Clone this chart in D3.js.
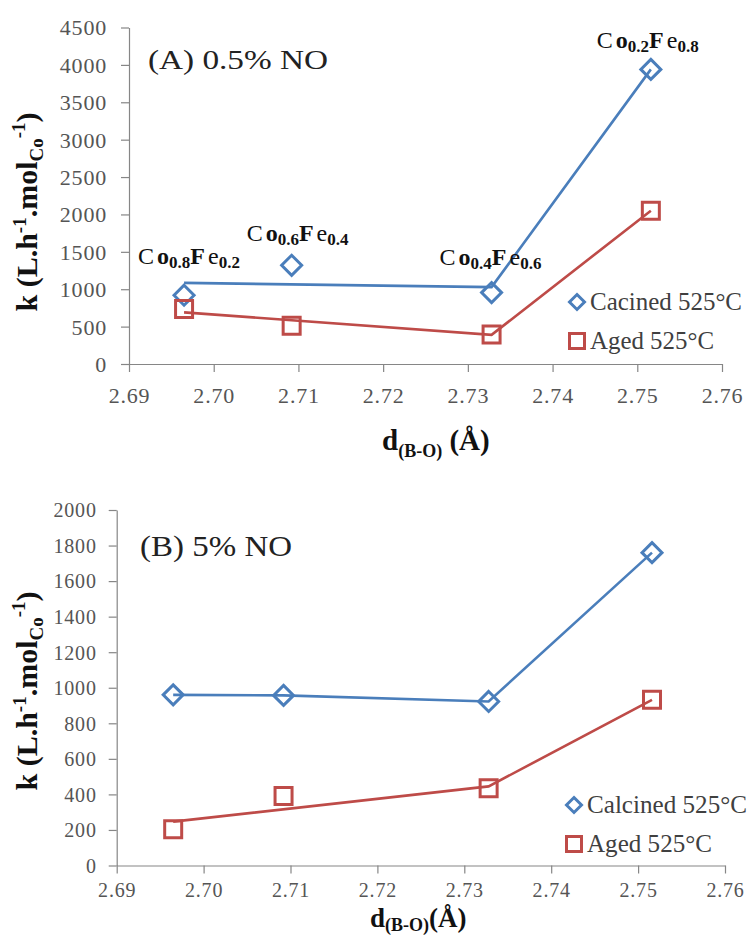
<!DOCTYPE html>
<html>
<head>
<meta charset="utf-8">
<script src="https://cdn.jsdelivr.net/npm/d3@7"></script>
<style>
  html, body { margin: 0; padding: 0; background: #fff; }
  svg { display: block; }
  svg text { font-family: "Liberation Serif", "Times New Roman", serif; }
</style>
</head>
<body>
<svg id="chart" width="750" height="938"></svg>
<script>
// B–O bond distance (Å) of each CoxFe1-x perovskite
const bondDistance = [2.6965, 2.7092, 2.7328, 2.7516];
const coFraction = ["0.8", "0.6", "0.4", "0.2"];
const feFraction = ["0.2", "0.4", "0.6", "0.8"];

// x ticks shared by both panels
const dTicks = [2.69, 2.70, 2.71, 2.72, 2.73, 2.74, 2.75, 2.76];

// Panel A: 0.5% NO — rate constants
const calcinedA = [920, 1320, 955, 3940];
const agedA = [735, 510, 395, 2050];
// guide lines drawn through the series
const calcinedLineA = [[2.6965, 1085], [2.7328, 1028], [2.7516, 3940]];
const agedLineA = [[2.6965, 690], [2.7328, 390], [2.7516, 2050]];
const kTicksA = [0, 500, 1000, 1500, 2000, 2500, 3000, 3500, 4000, 4500];

// Panel B: 5% NO — rate constants
const calcinedB = [960, 957, 923, 1760];
const agedB = [204, 391, 435, 932];
const calcinedLineB = [[2.6965, 960], [2.7092, 957], [2.7328, 923], [2.7516, 1760]];
const agedLineB = [[2.6965, 247], [2.7328, 445], [2.7516, 932]];
const kTicksB = [0, 200, 400, 600, 800, 1000, 1200, 1400, 1600, 1800, 2000];

const legendA = ["Cacined 525°C", "Aged 525°C"];
const legendB = ["Calcined 525°C", "Aged 525°C"];

const BLUE = "#4a7ebb", RED = "#be4b48", AXIS = "#868686", TICKTXT = "#555";
const SERIF = "'Liberation Serif', 'Times New Roman', serif";
const svg = d3.select("#chart");

function diamondPath(s) { const h = s / 2; return `M0,${-h}L${h},0L0,${h}L${-h},0Z`; }
function squarePath(s) { const h = s / 2; return `M${-h},${-h}H${h}V${h}H${-h}Z`; }

function panel(cfg) {
  const x = d3.scaleLinear().domain([2.69, 2.76]).range([cfg.left, cfg.right]);
  const y = d3.scaleLinear().domain([0, cfg.kMax]).range([cfg.bottom, cfg.top]);
  const g = svg.append("g");

  // axes
  const xa = g.append("g").attr("transform", `translate(0,${cfg.bottom})`)
    .call(d3.axisBottom(x).tickValues(dTicks).tickFormat(d3.format(".2f")).tickSize(8).tickSizeOuter(0))
    .attr("font-family", SERIF);
  xa.selectAll("text").attr("y", cfg.xTickBase).attr("dy", 0)
    .style("font-family", SERIF).style("font-size", cfg.tickFont + "px")
    .style("letter-spacing", "0.8px").attr("fill", TICKTXT);
  const ya = g.append("g").attr("transform", `translate(${cfg.left},0)`)
    .call(d3.axisLeft(y).tickValues(cfg.kTicks).tickFormat(d3.format("d")).tickSize(8).tickSizeOuter(0))
    .attr("font-family", SERIF);
  ya.selectAll("text").attr("x", -cfg.yTickPad).attr("dy", "0.34em")
    .style("font-family", SERIF).style("font-size", cfg.tickFont + "px")
    .style("letter-spacing", "0.8px").attr("fill", TICKTXT);
  g.selectAll(".domain, .tick line").attr("stroke", AXIS).attr("stroke-width", 1.2);

  const line = d3.line().x(d => x(d[0])).y(d => y(d[1]));
  g.append("path").attr("d", line(cfg.calcinedLine)).attr("fill", "none")
    .attr("stroke", BLUE).attr("stroke-width", 2.6);
  g.append("path").attr("d", line(cfg.agedLine)).attr("fill", "none")
    .attr("stroke", RED).attr("stroke-width", 2.6);

  // markers
  g.selectAll(".mc").data(cfg.calcined).join("path")
    .attr("transform", (d, i) => `translate(${x(bondDistance[i])},${y(d)})`)
    .attr("d", diamondPath(20)).attr("fill", "none").attr("stroke", BLUE).attr("stroke-width", 3);
  g.selectAll(".ma").data(cfg.aged).join("path")
    .attr("transform", (d, i) => `translate(${x(bondDistance[i])},${y(d)})`)
    .attr("d", squarePath(17)).attr("fill", "none").attr("stroke", RED).attr("stroke-width", 3);

  // panel title
  g.append("text").attr("x", cfg.titleX).attr("y", cfg.titleY)
    .style("font-size", cfg.titleFont + "px")
    .attr("textLength", cfg.titleWidth).attr("lengthAdjust", "spacingAndGlyphs")
    .attr("fill", "#222").text(cfg.title);

  // legend
  cfg.legend.forEach((t, i) => {
    const ly = cfg.legendY[i];
    g.append("path").attr("transform", `translate(${cfg.legendX},${ly})`)
      .attr("d", i === 0 ? diamondPath(15) : squarePath(15)).attr("fill", "none")
      .attr("stroke", i === 0 ? BLUE : RED).attr("stroke-width", 3);
    g.append("text").attr("x", cfg.legendX + 13).attr("y", ly + 8)
      .style("font-size", "25px")
      .attr("textLength", cfg.legendWidth[i]).attr("lengthAdjust", "spacingAndGlyphs")
      .attr("fill", "#404040").text(t);
  });

  // y-axis title
  const yt = g.append("text").attr("transform", `translate(${cfg.yTitleX},${cfg.yTitleY}) rotate(-90)`)
    .attr("text-anchor", "middle").attr("font-weight", "bold").style("font-size", "30px").attr("fill", "#111");
  yt.append("tspan").text("k (L.h");
  yt.append("tspan").style("font-size", "19px").attr("dy", -11).text("-1");
  yt.append("tspan").attr("dy", 11).text(".mol");
  yt.append("tspan").style("font-size", "19px").attr("dy", 6).text("Co");
  yt.append("tspan").style("font-size", "19px").attr("dy", -18).text("-1");
  yt.append("tspan").attr("dy", 12).text(")");

  // x-axis title
  const xt = g.append("text").attr("x", cfg.xTitleX).attr("y", cfg.xTitleY)
    .attr("font-weight", "bold").style("font-size", cfg.xTitleFont + "px").attr("fill", "#111");
  xt.append("tspan").text("d");
  xt.append("tspan").style("font-size", "18px").attr("dy", cfg.xSubDy).text("(B-O)");
  xt.append("tspan").attr("dy", -cfg.xSubDy).text(cfg.xTitleGap + "(Å)");

  return { x, y, g };
}

const A = panel({
  left: 129, right: 722, top: 27.5, bottom: 364, kMax: 4500, kTicks: kTicksA,
  tickFont: 22, xTickBase: 39, yTickPad: 22,
  calcined: calcinedA, aged: agedA, calcinedLine: calcinedLineA, agedLine: agedLineA,
  title: "(A) 0.5% NO", titleX: 148, titleY: 69, titleFont: 28, titleWidth: 180,
  legend: legendA, legendX: 577, legendY: [302, 341], legendWidth: [152, 124],
  yTitleX: 37, yTitleY: 212,
  xTitleX: 382, xTitleY: 450, xTitleFont: 29, xTitleGap: " ", xSubDy: 7
});

// composition labels above panel A points
const labelOffset = [[-46, -31], [-45, -24], [-52, -28], [-54, -21]];
A.g.selectAll(".comp").data(bondDistance).join("text")
  .attr("x", (d, i) => A.x(d) + labelOffset[i][0])
  .attr("y", (d, i) => A.y(calcinedA[i]) + labelOffset[i][1])
  .style("font-size", "24px").attr("fill", "#111")
  .each(function (d, i) {
    const t = d3.select(this);
    t.append("tspan").text("C");
    t.append("tspan").attr("dx", 3).attr("font-weight", "bold").text("o");
    t.append("tspan").style("font-size", "17px").attr("font-weight", "bold").attr("dy", 4).text(coFraction[i]);
    t.append("tspan").attr("font-weight", "bold").attr("dy", -4).text("F");
    t.append("tspan").attr("dx", 3).text("e");
    t.append("tspan").style("font-size", "17px").attr("font-weight", "bold").attr("dy", 4).text(feFraction[i]);
  });

panel({
  left: 116.7, right: 725, top: 510, bottom: 865.5, kMax: 2000, kTicks: kTicksB,
  tickFont: 20, xTickBase: 31, yTickPad: 20,
  calcined: calcinedB, aged: agedB, calcinedLine: calcinedLineB, agedLine: agedLineB,
  title: "(B) 5% NO", titleX: 140, titleY: 556, titleFont: 30, titleWidth: 152,
  legend: legendB, legendX: 574, legendY: [805, 844], legendWidth: [160, 125],
  yTitleX: 37, yTitleY: 691,
  xTitleX: 370, xTitleY: 927, xTitleFont: 27, xTitleGap: "", xSubDy: 4
});
</script>
</body>
</html>
